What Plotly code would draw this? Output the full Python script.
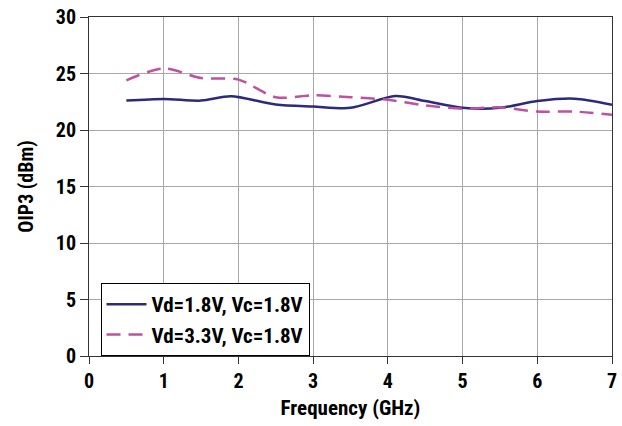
import plotly.graph_objects as go

freq_a = [0.5, 1.0, 1.5, 1.9, 2.5, 3.0, 3.5, 4.1, 4.5, 5.0, 5.5, 6.0, 6.5, 7.0]
oip3_a = [22.6, 22.75, 22.6, 22.98, 22.26, 22.08, 21.96, 23.0, 22.56, 21.96, 21.96, 22.56, 22.77, 22.23]
freq_b = [0.5, 1.0, 1.5, 2.0, 2.5, 3.0, 3.5, 4.0, 4.5, 5.0, 5.5, 6.0, 6.5, 7.0]
oip3_b = [24.4, 25.45, 24.6, 24.46, 22.9, 23.07, 22.9, 22.68, 22.17, 21.88, 22.0, 21.63, 21.63, 21.34]
name_a = "Vd=1.8V, Vc=1.8V"
name_b = "Vd=3.3V, Vc=1.8V"
x_ticks = [0, 1, 2, 3, 4, 5, 6, 7]
y_ticks = [0, 5, 10, 15, 20, 25, 30]
y_title = "OIP3 (dBm)"
x_title = "Frequency (GHz)"

FONT = "Liberation Sans Narrow, Roboto Condensed, Arial Narrow, sans-serif"

fig = go.Figure()
fig.add_trace(go.Scatter(x=freq_a, y=oip3_a, mode="lines", name=name_a,
                         line=dict(color="#2B2A7C", width=2.5, shape="spline", smoothing=0.8)))
fig.add_trace(go.Scatter(x=freq_b, y=oip3_b, mode="lines", name=name_b,
                         line=dict(color="#C050A0", width=2.5, dash="14px,8px", shape="spline", smoothing=0.8)))

fig.update_layout(
    width=622, height=426,
    margin=dict(l=89, r=10, t=17, b=70),
    paper_bgcolor="white", plot_bgcolor="white",
    font=dict(family=FONT, size=20, color="black"),
    legend=dict(x=0.022, y=0.215, xanchor="left", yanchor="top",
                bordercolor="black", borderwidth=1, bgcolor="white",
                font=dict(family=FONT, size=21, color="black", weight="bold"),
                tracegroupgap=0, itemwidth=40),
    annotations=[dict(text=f"<b>{y_title}</b>", xref="paper", yref="paper",
                      x=-0.122, y=0.5, xanchor="center", yanchor="middle",
                      textangle=-90, showarrow=False, font=dict(family=FONT, size=20, color="black"))],
)
fig.update_xaxes(range=[0, 7], tickvals=x_ticks, ticktext=[f"<b>{v}</b>" for v in x_ticks],
                 showgrid=True, gridcolor="#A8A8A8", gridwidth=1,
                 showline=True, linecolor="#333333", linewidth=1, mirror=True,
                 ticks="outside", ticklen=7, tickcolor="#333333", automargin=False,
                 title=dict(text=f"<b>{x_title}</b>", font=dict(size=21), standoff=8),
                 zeroline=False)
fig.update_yaxes(range=[0, 30], tickvals=y_ticks, ticktext=[f"<b>{v}</b>" for v in y_ticks],
                 showgrid=True, gridcolor="#A8A8A8", gridwidth=1,
                 showline=True, linecolor="#333333", linewidth=1, mirror=True,
                 ticks="outside", ticklen=8, tickcolor="#333333", automargin=False,
                 zeroline=False)

fig.write_html("out.html")
